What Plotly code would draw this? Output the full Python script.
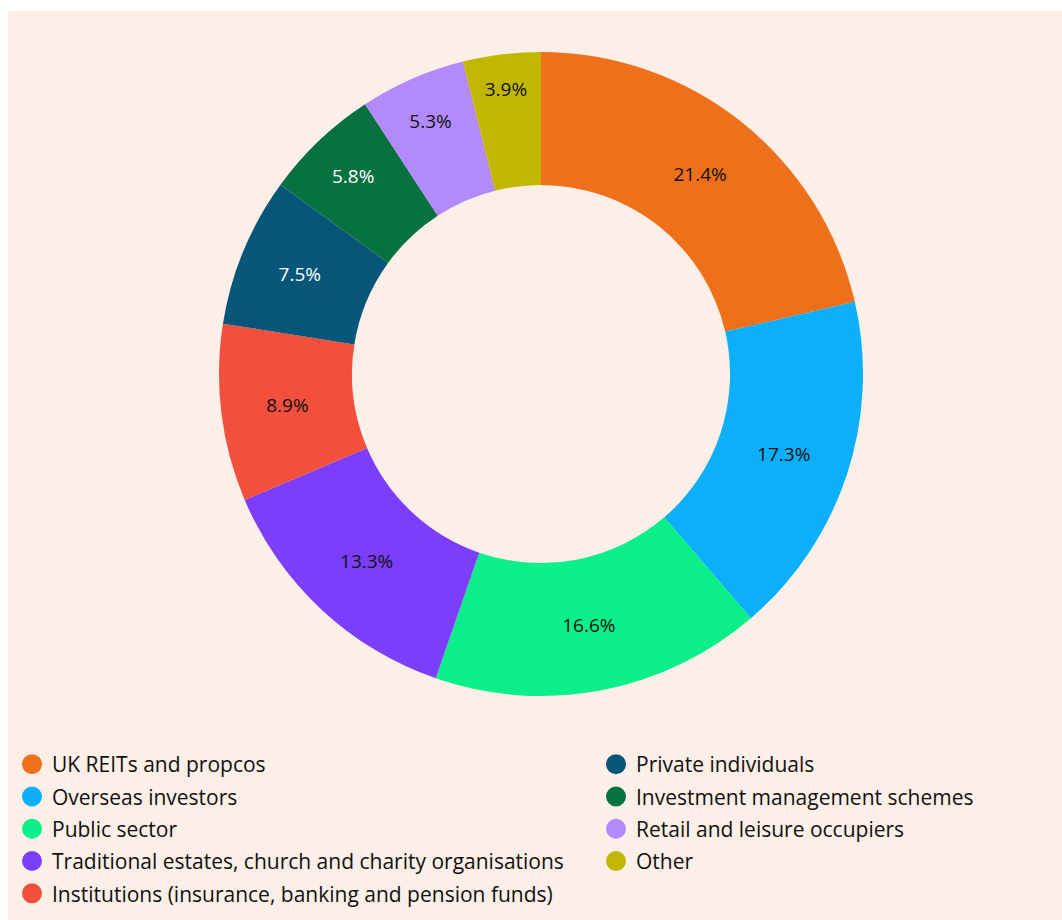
import plotly.graph_objects as go

labels = [
    "UK REITs and propcos",
    "Overseas investors",
    "Public sector",
    "Traditional estates, church and charity organisations",
    "Institutions (insurance, banking and pension funds)",
    "Private individuals",
    "Investment management schemes",
    "Retail and leisure occupiers",
    "Other",
]
values = [21.4, 17.3, 16.6, 13.3, 8.9, 7.5, 5.8, 5.3, 3.9]
colors = ["#EF701A", "#0BAFFA", "#0BEF8A", "#7D3EFB", "#F2503C",
          "#055679", "#077140", "#B28AFC", "#C1B700"]
text_colors = ["#111111", "#111111", "#111111", "#111111", "#111111",
               "#FFFFFF", "#FFFFFF", "#111111", "#111111"]

BG = "#FCEFE7"
FONT = "Open Sans"
W, H = 1062, 920

fig = go.Figure()
fig.add_trace(go.Pie(
    labels=labels, values=values, sort=False, direction="clockwise",
    rotation=0, hole=0.587,
    marker=dict(colors=colors, line=dict(width=0)),
    texttemplate="%{value:.1f}%", textposition="inside",
    insidetextorientation="horizontal",
    insidetextfont=dict(family=FONT, size=19, color=text_colors),
    showlegend=False, hoverinfo="label+percent",
    domain=dict(x=[(541 - 322) / W, (541 + 322) / W],
                y=[1 - 696 / H, 1 - 52 / H]),
))

for i, (lab, col) in enumerate(zip(labels, colors)):
    fig.add_trace(go.Scatter(
        x=[None], y=[None], mode="markers", name=lab,
        marker=dict(size=16, color=col, symbol="circle",
                    line=dict(color=col, width=4)),
        legend="legend" if i < 5 else "legend2",
        legendgroup=f"g{i}", hoverinfo="skip",
    ))

leg_common = dict(
    bgcolor="rgba(0,0,0,0)", borderwidth=0,
    font=dict(family=FONT, size=21, color="#111111"),
    itemsizing="trace", tracegroupgap=2, yanchor="top", xanchor="left",
    orientation="v", traceorder="grouped",
)
fig.update_layout(
    width=W, height=H,
    margin=dict(l=0, r=0, t=0, b=0),
    paper_bgcolor="white", plot_bgcolor="rgba(0,0,0,0)",
    xaxis=dict(visible=False), yaxis=dict(visible=False),
    legend=dict(x=12 / W, y=1 - 744 / H, **leg_common),
    legend2=dict(x=596 / W, y=1 - 744 / H, **leg_common),
    shapes=[dict(type="rect", xref="paper", yref="paper",
                 x0=8 / W, x1=1.0, y0=0, y1=1 - 11 / H,
                 fillcolor=BG, line=dict(width=0), layer="below")],
)

fig.write_html("out.html")
